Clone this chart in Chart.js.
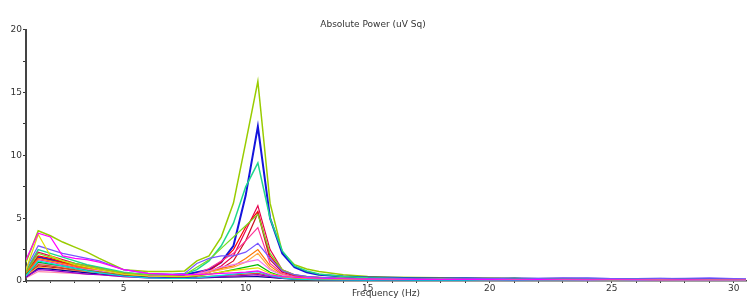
<!DOCTYPE html>
<html>
<head>
<meta charset="utf-8">
<script src="https://cdn.jsdelivr.net/npm/chart.js@4/dist/chart.umd.min.js"></script>
<style>
html,body{margin:0;padding:0;background:#fff;}
canvas{display:block;}
</style>
</head>
<body>
<canvas id="c" width="750" height="301"></canvas>
<script>
const chartTitle = 'Absolute Power (uV Sq)';
const xTitle = 'Frequency (Hz)';
const freqs = [1,1.5,2,2.5,3,3.5,4,5,6,7,7.5,8,8.5,9,9.5,10,10.5,11,11.5,12,12.5,13,14,15,16,17,18,19,20,21,22,23,24,25,26,27,28,29,30,30.5];

const magenta = [1.7,3.8,3.5,2.0,1.8,1.7,1.5,0.9,0.6,0.5, 0.5,0.5,0.55,0.6,0.65,0.7,0.8,0.5,0.35,0.3, 0.25,0.22,0.18,0.15,0.14,0.13,0.12,0.13,0.11,0.1, 0.11,0.1,0.09,0.1,0.09,0.08,0.09,0.08,0.08,0.08];
const yellow = [0.9,3.7,2.0,1.6,1.3,1.1,0.9,0.55,0.4,0.35, 0.35,0.45,0.55,0.7,0.85,0.95,1.05,0.6,0.35,0.25, 0.2,0.18,0.15,0.14,0.13,0.12,0.14,0.12,0.11,0.12, 0.1,0.11,0.1,0.09,0.1,0.09,0.08,0.09,0.08,0.08];
const blueViolet = [1.0,2.8,2.5,2.2,2.0,1.8,1.6,0.9,0.6,0.55, 0.6,1.4,1.8,2.0,2.0,2.3,3.0,1.8,0.8,0.5, 0.38,0.3,0.22,0.2,0.22,0.18,0.2,0.17,0.22,0.18, 0.2,0.25,0.22,0.2,0.18,0.2,0.22,0.25,0.2,0.18];
const cyan = [0.4,1.6,1.4,1.2,1.0,0.8,0.65,0.4,0.25,0.2, 0.2,0.25,0.35,0.45,0.55,0.65,0.75,0.45,0.25,0.15, 0.12,0.1,0.08,0.07,0.08,0.07,0.06,0.07,0.06,0.06, 0.07,0.06,0.05,0.06,0.05,0.06,0.05,0.05,0.05,0.05];
const purple = [0.35,0.9,0.85,0.75,0.65,0.55,0.5,0.35,0.25,0.22, 0.22,0.25,0.3,0.35,0.4,0.45,0.5,0.35,0.22,0.18, 0.15,0.13,0.12,0.11,0.12,0.1,0.11,0.1,0.09,0.1, 0.09,0.1,0.09,0.08,0.09,0.08,0.09,0.08,0.07,0.07];
const navy = [0.3,1.0,0.95,0.85,0.75,0.65,0.55,0.4,0.3,0.25, 0.25,0.25,0.27,0.3,0.32,0.34,0.35,0.28,0.2,0.15, 0.12,0.1,0.08,0.07,0.08,0.07,0.06,0.07,0.06,0.06, 0.05,0.06,0.05,0.05,0.06,0.05,0.05,0.05,0.04,0.04];
const lightPink = [0.25,0.75,0.7,0.65,0.6,0.55,0.5,0.35,0.25,0.22, 0.22,0.25,0.28,0.3,0.33,0.36,0.4,0.3,0.2,0.15, 0.12,0.1,0.08,0.08,0.07,0.08,0.07,0.06,0.07,0.06, 0.06,0.05,0.06,0.05,0.05,0.05,0.04,0.05,0.04,0.04];
const brown = [0.45,1.3,1.2,1.05,0.9,0.8,0.7,0.45,0.32,0.28, 0.28,0.32,0.38,0.42,0.48,0.55,0.6,0.42,0.28,0.2, 0.16,0.14,0.12,0.1,0.11,0.1,0.09,0.1,0.09,0.08, 0.09,0.08,0.08,0.07,0.08,0.07,0.07,0.06,0.06,0.06];
const green = [0.5,1.5,1.35,1.2,1.0,0.85,0.7,0.45,0.3,0.28, 0.3,0.4,0.55,0.7,0.9,1.1,1.3,0.7,0.35,0.25, 0.2,0.18,0.15,0.2,0.15,0.18,0.16,0.15,0.14,0.22, 0.15,0.14,0.12,0.13,0.12,0.14,0.13,0.12,0.1,0.1];
const violetPink = [0.5,1.4,1.3,1.15,1.0,0.9,0.8,0.5,0.4,0.35, 0.38,0.55,0.8,1.1,1.3,1.5,1.7,0.9,0.45,0.3, 0.25,0.2,0.16,0.14,0.13,0.15,0.12,0.13,0.11,0.12, 0.1,0.11,0.1,0.09,0.1,0.09,0.1,0.08,0.08,0.08];
const lightOrange = [0.4,1.1,1.0,0.9,0.8,0.7,0.6,0.4,0.3,0.28, 0.3,0.45,0.7,0.9,1.1,1.5,2.2,1.0,0.45,0.28, 0.22,0.18,0.15,0.13,0.12,0.14,0.12,0.11,0.12,0.1, 0.11,0.1,0.09,0.1,0.09,0.08,0.09,0.08,0.07,0.07];
const orange = [0.6,1.8,1.6,1.4,1.2,1.0,0.85,0.5,0.35,0.3, 0.32,0.5,0.8,1.0,1.2,1.8,2.5,1.2,0.5,0.3, 0.25,0.2,0.16,0.14,0.15,0.13,0.12,0.14,0.12,0.11, 0.12,0.1,0.11,0.09,0.1,0.09,0.08,0.09,0.08,0.08];
const pinkMagenta = [0.5,1.7,1.5,1.3,1.1,0.95,0.8,0.5,0.4,0.38, 0.4,0.6,1.0,1.6,2.2,3.2,4.25,1.4,0.6,0.35, 0.28,0.24,0.18,0.15,0.16,0.14,0.13,0.14,0.12,0.11, 0.12,0.1,0.11,0.1,0.09,0.1,0.09,0.09,0.08,0.08];
const lightGreen = [0.7,2.2,1.9,1.6,1.4,1.2,1.0,0.65,0.5,0.45, 0.5,1.1,1.7,2.6,3.5,4.4,5.3,2.2,0.9,0.5, 0.35,0.3,0.22,0.2,0.18,0.2,0.16,0.17,0.15,0.18, 0.14,0.15,0.13,0.14,0.12,0.13,0.12,0.11,0.1,0.1];
const darkRed = [0.5,1.2,1.1,1.0,0.85,0.7,0.6,0.4,0.3,0.28, 0.3,0.4,0.7,1.0,1.6,3.2,5.4,1.7,0.7,0.4, 0.3,0.25,0.2,0.16,0.18,0.14,0.15,0.13,0.12,0.13, 0.11,0.12,0.1,0.11,0.1,0.09,0.1,0.09,0.08,0.08];
const red = [0.6,2.0,1.8,1.5,1.2,1.0,0.85,0.5,0.35,0.3, 0.32,0.45,0.8,1.5,2.5,4.3,5.55,2.0,0.8,0.45, 0.32,0.25,0.18,0.15,0.14,0.13,0.15,0.12,0.13,0.11, 0.12,0.1,0.11,0.1,0.09,0.1,0.09,0.1,0.08,0.08];
const crimson = [0.7,2.3,2.0,1.7,1.4,1.2,1.0,0.6,0.4,0.35, 0.35,0.45,0.7,1.2,2.0,4.0,6.0,2.5,0.9,0.5, 0.35,0.3,0.22,0.18,0.2,0.15,0.17,0.14,0.15,0.13, 0.12,0.14,0.12,0.1,0.12,0.11,0.1,0.12,0.1,0.1];
const seaGreen = [0.8,2.5,2.2,1.9,1.6,1.3,1.1,0.7,0.5,0.5, 0.55,0.9,1.6,2.8,4.6,7.5,9.4,5.0,2.4,1.2, 0.8,0.55,0.35,0.25,0.22,0.2,0.18,0.2,0.16,0.15, 0.17,0.14,0.15,0.13,0.15,0.12,0.13,0.11,0.1,0.1];
const blue = [0.6,1.9,1.7,1.5,1.3,1.1,0.9,0.6,0.45,0.45, 0.5,0.7,0.9,1.5,2.8,6.8,12.3,5.0,2.2,1.1, 0.7,0.5,0.35,0.28,0.25,0.22,0.2,0.22,0.18,0.2, 0.17,0.18,0.2,0.15,0.16,0.18,0.14,0.15,0.12,0.1];
const yellowGreen = [1.5,4.0,3.6,3.1,2.7,2.3,1.8,0.9,0.75,0.75, 0.8,1.6,2.0,3.5,6.2,11.0,15.9,6.2,2.3,1.3, 0.95,0.75,0.5,0.35,0.3,0.28,0.25,0.22,0.24,0.2, 0.18,0.2,0.17,0.16,0.18,0.15,0.14,0.15,0.12,0.12];

const series = [
  ['magenta', magenta, '#ff00ff', 1.2],
  ['yellow', yellow, '#e0e000', 1.2],
  ['blueViolet', blueViolet, '#7755ff', 1.2],
  ['cyan', cyan, '#00e0e0', 1.2],
  ['purple', purple, '#9900cc', 1.2],
  ['navy', navy, '#000099', 1.2],
  ['lightPink', lightPink, '#ff88aa', 1.2],
  ['brown', brown, '#cc5522', 1.2],
  ['green', green, '#00bb00', 1.2],
  ['violetPink', violetPink, '#ee77ee', 1.2],
  ['lightOrange', lightOrange, '#ffaa44', 1.2],
  ['orange', orange, '#ff7700', 1.2],
  ['pinkMagenta', pinkMagenta, '#ff3399', 1.2],
  ['lightGreen', lightGreen, '#77dd22', 1.2],
  ['darkRed', darkRed, '#cc1122', 1.2],
  ['red', red, '#ff0000', 1.2],
  ['crimson', crimson, '#e6004c', 1.2],
  ['seaGreen', seaGreen, '#1ed88c', 1.5],
  ['blue', blue, '#1414dc', 2],
  ['yellowGreen', yellowGreen, '#99cc00', 1.5]
];

const datasets = series.map(([name, vals, color, w]) => ({
  label: name,
  data: freqs.map((f, i) => ({x: f, y: vals[i]})),
  borderColor: color,
  borderWidth: w,
  pointRadius: 0,
  tension: 0,
  fill: false
}));

const FONT = 'DejaVu Sans, Verdana, sans-serif';

new Chart(document.getElementById('c'), {
  type: 'line',
  data: { datasets },
  options: {
    responsive: false,
    animation: false,
    devicePixelRatio: 1,
    layout: { padding: { left: 0, right: 4, top: 0, bottom: 0 } },
    plugins: {
      legend: { display: false },
      tooltip: { enabled: false },
      title: {
        display: true,
        text: chartTitle,
        color: '#333',
        font: { family: FONT, size: 9, weight: 'normal', lineHeight: 1.2 },
        padding: { top: 19, bottom: 0 }
      }
    },
    scales: {
      x: {
        type: 'linear',
        min: 1,
        max: 30.5,
        afterFit: s => { s.height = 20; },
        ticks: {
          stepSize: 1,
          includeBounds: false,
          autoSkip: false,
          maxRotation: 0,
          padding: 0,
          color: '#333',
          font: { family: FONT, size: 9 },
          callback: v => (v % 5 === 0 ? v : '')
        },
        grid: { display: true, drawOnChartArea: false, drawTicks: true, tickLength: 2, color: '#333', lineWidth: 1 },
        border: { display: true, color: '#444', width: 1.5 },
        title: {
          display: true,
          text: xTitle,
          color: '#333',
          font: { family: FONT, size: 9, lineHeight: 1.2 },
          padding: { top: 0, bottom: 2 }
        }
      },
      y: {
        min: 0,
        max: 20,
        afterFit: s => { s.width = 26; },
        ticks: {
          stepSize: 2.5,
          padding: 1,
          color: '#333',
          font: { family: FONT, size: 9 },
          callback: v => (v % 5 === 0 ? v : '')
        },
        grid: { display: true, drawOnChartArea: false, drawTicks: true, tickLength: 3, color: '#333', lineWidth: 1 },
        border: { display: true, color: '#444', width: 2 }
      }
    }
  }
});
</script>
</body>
</html>
